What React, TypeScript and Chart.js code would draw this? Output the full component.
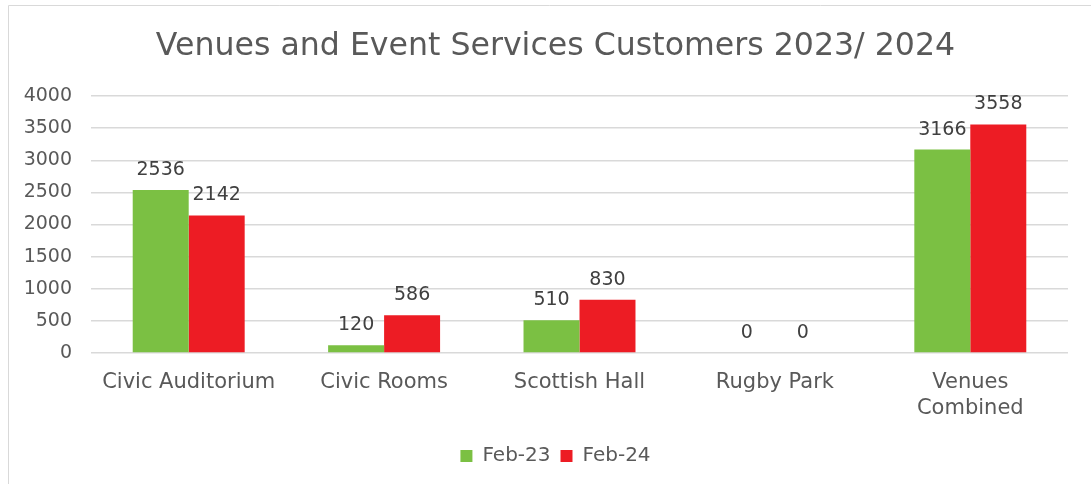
import React, { useEffect, useRef } from "react";
import { Chart, registerables } from "chart.js";

Chart.register(...registerables);

const titleText = "Venues and Event Services Customers 2023/ 2024";
const categories: (string | string[])[] = [
  "Civic Auditorium",
  "Civic Rooms",
  "Scottish Hall",
  "Rugby Park",
  ["Venues", "Combined"],
];
const seriesNames = ["Feb-23", "Feb-24"];
const feb23 = [2536, 120, 510, 0, 3166];
const feb24 = [2142, 586, 830, 0, 3558];
const seriesColors = ["#7BC043", "#ED1C24"];
const yMin = 0;
const yMax = 4000;
const yStep = 500;

const FONT = "'DejaVu Sans', sans-serif";
const TEXT = "#595959";
const GRID = "#D9D9D9";

const framePlugin = {
  id: "frame",
  beforeDraw(chart: any) {
    const ctx = chart.ctx;
    ctx.save();
    ctx.strokeStyle = GRID;
    ctx.lineWidth = 1;
    ctx.beginPath();
    ctx.moveTo(8.5, chart.height);
    ctx.lineTo(8.5, 5.5);
    ctx.lineTo(chart.width, 5.5);
    ctx.stroke();
    ctx.restore();
  },
};

const dataLabelPlugin = {
  id: "dataLabels",
  afterDatasetsDraw(chart: any) {
    const ctx = chart.ctx;
    ctx.save();
    ctx.font = `19px ${FONT}`;
    ctx.fillStyle = "#404040";
    ctx.textAlign = "center";
    ctx.textBaseline = "alphabetic";
    chart.data.datasets.forEach((ds: any, di: number) => {
      const meta = chart.getDatasetMeta(di);
      meta.data.forEach((el: any, i: number) => {
        ctx.fillText(String(ds.data[i]), el.x, el.y - 15);
      });
    });
    ctx.restore();
  },
};

export default function App() {
  const ref = useRef<HTMLCanvasElement | null>(null);

  useEffect(() => {
    if (!ref.current) return;
    const chart = new Chart(ref.current, {
      type: "bar",
      data: {
        labels: categories as any,
        datasets: [
          {
            label: seriesNames[0],
            data: feb23,
            backgroundColor: seriesColors[0],
            categoryPercentage: 0.573,
            barPercentage: 1,
          },
          {
            label: seriesNames[1],
            data: feb24,
            backgroundColor: seriesColors[1],
            categoryPercentage: 0.573,
            barPercentage: 1,
          },
        ],
      },
      options: {
        responsive: false,
        animation: false,
        layout: { padding: { left: 20, right: 0, top: 0, bottom: 8 } },
        plugins: {
          title: {
            display: true,
            text: titleText,
            color: TEXT,
            font: { family: FONT, size: 31.6, weight: "normal" as any },
            padding: { top: 28, bottom: 30.1 },
          },
          legend: {
            display: true,
            position: "bottom",
            labels: {
              color: TEXT,
              font: { family: FONT, size: 20 },
              boxWidth: 12,
              boxHeight: 12,
              padding: 10,
            },
          },
          tooltip: { enabled: false },
        },
        scales: {
          x: {
            grid: { display: false },
            border: { display: false },
            ticks: {
              color: TEXT,
              font: { family: FONT, size: 21, lineHeight: 1.25 },
              padding: 8,
              maxRotation: 0,
              autoSkip: false,
            },
            afterFit(scale: any) {
              scale.height = 83;
            },
          },
          y: {
            min: yMin,
            max: yMax,
            grid: { color: GRID, lineWidth: 1.5, drawTicks: false },
            border: { display: false },
            ticks: {
              stepSize: yStep,
              color: TEXT,
              font: { family: FONT, size: 19 },
              padding: 19,
              callback: (v: any) => String(v),
            },
            afterFit(scale: any) {
              scale.width = 71;
            },
          },
          yRight: {
            position: "right",
            display: true,
            grid: { display: false, drawTicks: false },
            border: { display: false },
            ticks: { display: false },
            afterFit(scale: any) {
              scale.width = 23;
            },
          },
        },
      },
      plugins: [framePlugin, dataLabelPlugin],
    });
    return () => chart.destroy();
  }, []);

  return (
    <div style={{ position: "fixed", left: 0, top: 0, width: 1091, height: 484, background: "#fff" }}>
      <canvas ref={ref} width={1091} height={484} />
    </div>
  );
}
